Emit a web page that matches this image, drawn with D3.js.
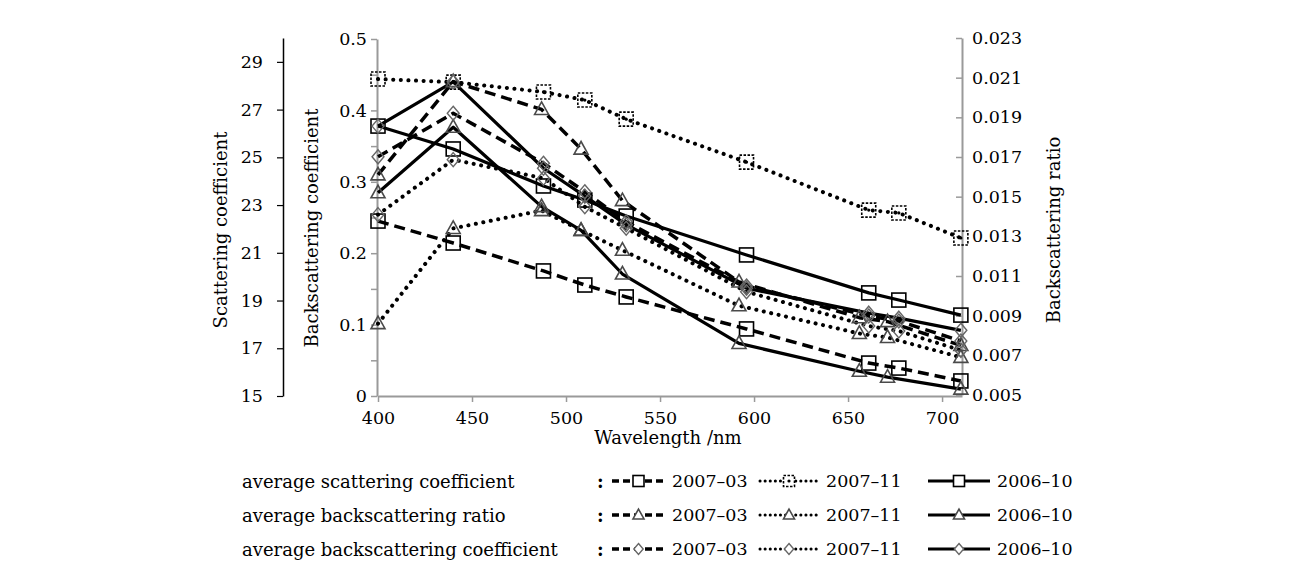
<!DOCTYPE html>
<html>
<head>
<meta charset="utf-8">
<script src="https://cdn.jsdelivr.net/npm/d3@7"></script>
<style>
body { margin: 0; background: #fff; }
text { font-family: "DejaVu Serif", serif; fill: #000; }
</style>
</head>
<body>
<div id="chart-area"></div>
<script>
// wavelengths (nm) of the samples
const wavelengths = [400, 440, 488, 510, 532, 596, 661, 677, 710]
const ratioWavelengths = [400, 440, 487, 508, 530, 592, 656, 671, 710]
const periods = ["2007–03", "2007–11", "2006–10"]

// average scattering coefficient (left axis)
const scatMar07 = [22.33, 21.41, 20.24, 19.65, 19.15, 17.81, 16.38, 16.17, 15.63]
const scatNov07 = [28.28, 28.15, 27.74, 27.40, 26.60, 24.80, 22.79, 22.67, 21.62]
const scatOct06 = [26.31, 25.35, 23.80, 23.21, 22.54, 20.91, 19.32, 19.02, 18.39]

// average backscattering ratio (right axis)
const ratioMar07 = [0.0161, 0.0208, 0.0194, 0.0174, 0.0148, 0.0107, 0.0089, 0.0087, 0.0075]
const ratioNov07 = [0.0086, 0.0134, 0.0143, 0.0133, 0.0123, 0.0095, 0.0081, 0.0079, 0.0069]
const ratioOct06 = [0.0152, 0.0185, 0.0145, 0.0133, 0.0111, 0.0076, 0.0062, 0.0059, 0.0053]

// average backscattering coefficient (middle axis)
const bbMar07 = [0.335, 0.396, 0.326, 0.286, 0.244, 0.154, 0.112, 0.105, 0.077]
const bbNov07 = [0.254, 0.331, 0.305, 0.265, 0.235, 0.146, 0.098, 0.091, 0.064]
const bbOct06 = [0.378, 0.440, 0.319, 0.280, 0.240, 0.151, 0.116, 0.109, 0.092]

const scatTicks = [15, 17, 19, 21, 23, 25, 27, 29]
const bbTicks = [0, 0.05, 0.1, 0.15, 0.2, 0.25, 0.3, 0.35, 0.4, 0.45, 0.5]
const ratioTicks = [0.005, 0.007, 0.009, 0.011, 0.013, 0.015, 0.017, 0.019, 0.021, 0.023]
const wlTicks = [400, 450, 500, 550, 600, 650, 700]

const legendNames = ["average scattering coefficient", "average backscattering ratio", "average backscattering coefficient"]

const W = 1290, H = 572
const PLOT = { LEFT: 378, RIGHT: 962, TOP: 38, BOTTOM: 396 }

const svg = d3.select("#chart-area").append("svg")
	.attr("width", W)
	.attr("height", H)

const x = d3.scaleLinear().domain([400, 710.6]).range([PLOT.LEFT, PLOT.RIGHT])
const yScat = d3.scaleLinear().domain([15, 30]).range([PLOT.BOTTOM, PLOT.TOP])
const yBb = d3.scaleLinear().domain([0, 0.5]).range([PLOT.BOTTOM, PLOT.TOP + 1])
const yRatio = d3.scaleLinear().domain([0.005, 0.023]).range([PLOT.BOTTOM - 1, PLOT.TOP])

const GREY = "#9a9a9a"

// ---- axes ----
const leftAxis = svg.append("g")
	.attr("transform", "translate(283,0)")
	.call(d3.axisLeft(yScat).tickValues(scatTicks).tickSize(6).tickPadding(14).tickSizeOuter(0))
leftAxis.select(".domain").attr("stroke", "#000").attr("stroke-width", 1.5)
leftAxis.selectAll(".tick line").attr("stroke", "#000").attr("stroke-width", 1.2)

const midAxis = svg.append("g")
	.attr("transform", `translate(${PLOT.LEFT - 1},0)`)
	.call(d3.axisLeft(yBb).tickValues(bbTicks).tickSize(6).tickPadding(4).tickSizeOuter(0)
		.tickFormat(d => (Math.round(d * 100) % 10 === 0) ? d3.format("")(+d.toFixed(1)) : ""))

const rightAxis = svg.append("g")
	.attr("transform", `translate(${PLOT.RIGHT},0)`)
	.call(d3.axisRight(yRatio).tickValues(ratioTicks).tickSize(-6).tickPadding(10).tickSizeOuter(0)
		.tickFormat(d3.format(".3f")))

const xAxis = svg.append("g")
	.attr("transform", `translate(0,${PLOT.BOTTOM})`)
	.call(d3.axisBottom(x).tickValues(wlTicks).tickSize(6).tickPadding(10).tickSizeOuter(0))

;[midAxis, rightAxis, xAxis].forEach(a => {
	a.select(".domain").attr("stroke", GREY).attr("stroke-width", 2)
	a.selectAll(".tick line").attr("stroke", GREY).attr("stroke-width", 1.5)
})
svg.selectAll(".tick text").attr("font-family", "DejaVu Serif").attr("font-size", 17.5).attr("fill", "#000")

// axis titles
svg.append("text").attr("transform", "translate(220,230) rotate(-90)")
	.attr("text-anchor", "middle").attr("dominant-baseline", "central")
	.attr("font-size", 18).text("Scattering coefficient")
svg.append("text").attr("transform", "translate(311,228) rotate(-90)")
	.attr("text-anchor", "middle").attr("dominant-baseline", "central")
	.attr("font-size", 18).text("Backscattering coefficient")
svg.append("text").attr("transform", "translate(1053,230) rotate(-90)")
	.attr("text-anchor", "middle").attr("dominant-baseline", "central")
	.attr("font-size", 18).text("Backscattering ratio")
svg.append("text").attr("x", 668).attr("y", 444)
	.attr("text-anchor", "middle").attr("font-size", 18).text("Wavelength /nm")

// ---- series ----
const lineStyles = [
	{ dash: "11,6", width: 3.5, cap: "butt" },     // 2007-03 dashed
	{ dash: "0.1,7.5", width: 4, cap: "round" },   // 2007-11 dotted
	{ dash: null, width: 3.2, cap: "butt" }        // 2006-10 solid
]

const groups = [
	{ marker: "square", wl: wavelengths, y: yScat, data: [scatMar07, scatNov07, scatOct06] },
	{ marker: "triangle", wl: ratioWavelengths, y: yRatio, data: [ratioMar07, ratioNov07, ratioOct06] },
	{ marker: "diamond", wl: wavelengths, y: yBb, data: [bbMar07, bbNov07, bbOct06] }
]

function drawMarker(sel, type, period, size, fill) {
	if (type === "square") {
		sel.append("rect")
			.attr("x", -size / 2).attr("y", -size / 2)
			.attr("width", size).attr("height", size)
			.attr("fill", fill).attr("stroke", "#000")
			.attr("stroke-width", 1.6)
			.attr("stroke-dasharray", period === 1 ? "2.5,1.5" : null)
		if (period === 1) {
			sel.append("circle").attr("r", 1.6).attr("fill", "#000")
		}
	} else if (type === "triangle") {
		const h = size * 0.9
		sel.append("path")
			.attr("d", `M0,${-h * 0.6}L${size / 2},${h * 0.4}L${-size / 2},${h * 0.4}Z`)
			.attr("fill", fill).attr("stroke", "#4a4a4a").attr("stroke-width", 1.6)
	} else {
		const r = size * 0.5
		sel.append("path")
			.attr("d", `M0,${-r}L${r * 0.85},0L0,${r}L${-r * 0.85},0Z`)
			.attr("fill", fill).attr("stroke", "#666").attr("stroke-width", 1.4)
	}
}

const plot = svg.append("g")

groups.forEach(gr => {
	gr.data.forEach((vals, p) => {
		const pts = vals.map((v, i) => [gr.wl[i], v])
		const line = d3.line().x(d => x(d[0])).y(d => gr.y(d[1]))
		const st = lineStyles[p]
		plot.append("path")
			.attr("d", line(pts))
			.attr("fill", "none")
			.attr("stroke", "#000")
			.attr("stroke-width", st.width)
			.attr("stroke-dasharray", st.dash)
			.attr("stroke-linecap", st.cap)
			.attr("stroke-linejoin", "round")
	})
})

groups.forEach(gr => {
	gr.data.forEach((vals, p) => {
		plot.selectAll(null)
			.data(vals.map((v, i) => [gr.wl[i], v]))
			.enter().append("g")
			.attr("transform", d => `translate(${x(d[0])},${gr.y(d[1])})`)
			.each(function () { drawMarker(d3.select(this), gr.marker, p, 14, "none") })
	})
})

// ---- legend ----
const rowY = [481, 515, 549]
const sampleX = [[612, 665], [760, 818], [928, 990]]
const labelX = [672, 826, 997]

const legend = svg.append("g")
groups.forEach((gr, r) => {
	legend.append("text").attr("x", 242).attr("y", rowY[r])
		.attr("dominant-baseline", "central").attr("font-size", 18).text(legendNames[r])
	legend.append("text").attr("x", 597).attr("y", rowY[r])
		.attr("dominant-baseline", "central").attr("font-size", 18).attr("font-weight", "bold").text(":")
	periods.forEach((name, p) => {
		const st = lineStyles[p]
		const [x0, x1] = sampleX[p]
		legend.append("line")
			.attr("x1", x0).attr("x2", x1).attr("y1", rowY[r]).attr("y2", rowY[r])
			.attr("stroke", "#000")
			.attr("stroke-width", p === 1 ? 3 : st.width)
			.attr("stroke-dasharray", p === 1 ? "0.1,5" : (p === 0 ? "7,4" : null))
			.attr("stroke-linecap", st.cap)
		const m = legend.append("g").attr("transform", `translate(${(x0 + x1) / 2},${rowY[r]})`)
		drawMarker(m, gr.marker, p, 11, "#fff")
		legend.append("text").attr("x", labelX[p]).attr("y", rowY[r])
			.attr("dominant-baseline", "central").attr("font-size", 17.5).text(name)
	})
})
</script>
</body>
</html>
